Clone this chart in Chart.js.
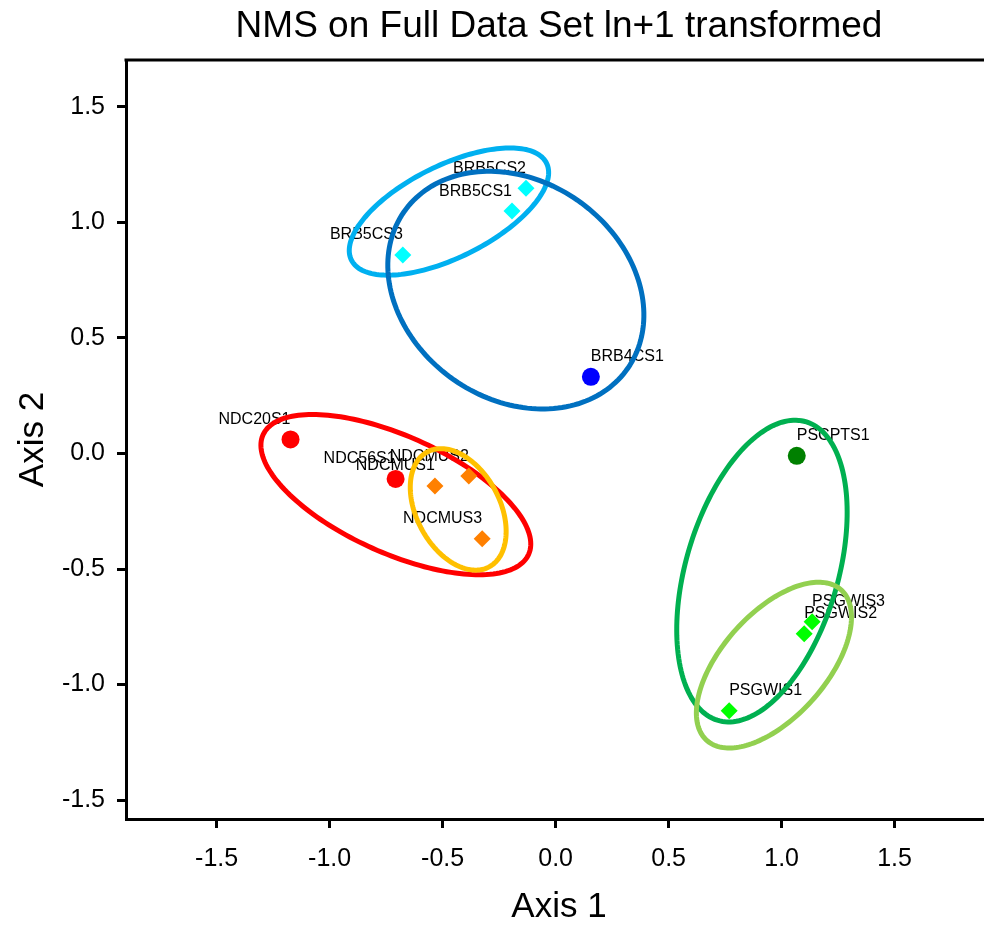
<!DOCTYPE html>
<html>
<head>
<meta charset="utf-8">
<script src="https://cdn.jsdelivr.net/npm/chart.js@4.4.0/dist/chart.umd.min.js"></script>
<style>
html,body{margin:0;padding:0;background:#fff;overflow:hidden;width:984px;height:928px;}
#wrap{width:1001px;height:928px;}
canvas{display:block;}
</style>
</head>
<body>
<div id="wrap"><canvas id="c" width="1001" height="928"></canvas></div>
<script>
// ---- data ----
const brb5Names = ['BRB5CS1', 'BRB5CS2', 'BRB5CS3'];
const brb5X = [-0.193, -0.131, -0.676];
const brb5Y = [1.049, 1.148, 0.859];

const brb4Names = ['BRB4CS1'];
const brb4X = [0.156];
const brb4Y = [0.332];

const ndcNames = ['NDC20S1', 'NDC56S1'];
const ndcX = [-1.173, -0.708];
const ndcY = [0.061, -0.110];

const ndcmusNames = ['NDCMUS1', 'NDCMUS2', 'NDCMUS3'];
const ndcmusX = [-0.534, -0.384, -0.325];
const ndcmusY = [-0.141, -0.098, -0.369];

const pscptsNames = ['PSCPTS1'];
const pscptsX = [1.067];
const pscptsY = [-0.010];

const psgwisNames = ['PSGWIS1', 'PSGWIS2', 'PSGWIS3'];
const psgwisX = [0.768, 1.100, 1.135];
const psgwisY = [-1.114, -0.780, -0.728];

// group ellipses: centre, semi-axes (axis units), rotation (degrees)
const ellipseCx = [-0.472, -0.176, -0.707, -0.431, 0.913, 0.966];
const ellipseCy = [1.047, 0.707, -0.178, -0.242, -0.509, -0.916];
const ellipseA = [0.480, 0.600, 0.642, 0.284, 0.675, 0.441];
const ellipseB = [0.200, 0.475, 0.254, 0.183, 0.336, 0.228];
const ellipseAngle = [25.7, -32.6, -23.6, -60.4, 73.0, 47.2];
const ellipseColors = ['#00B0F0', '#0070C0', '#FF0000', '#FFC000', '#00B050', '#92D050'];

const xTicks = [-1.5, -1.0, -0.5, 0.0, 0.5, 1.0, 1.5];
const yTicks = [-1.5, -1.0, -0.5, 0.0, 0.5, 1.0, 1.5];

// ---- build ----
const pts = (names, xs, ys) => names.map((n, i) => ({x: xs[i], y: ys[i], label: n}));
const FONT = '"Liberation Sans", Arial, Helvetica, sans-serif';
Chart.defaults.font.family = FONT;
Chart.defaults.color = '#000';

const overlay = {
  id: 'overlay',
  beforeDatasetsDraw(chart) {
    const {ctx, scales: {x, y}, chartArea} = chart;
    ctx.save();
    ctx.beginPath();
    ctx.rect(chartArea.left, chartArea.top, chartArea.right - chartArea.left, chartArea.bottom - chartArea.top);
    ctx.clip();
    // point labels
    ctx.font = '16px ' + FONT;
    ctx.fillStyle = '#000';
    ctx.textBaseline = 'middle';
    chart.data.datasets.forEach(ds => {
      ds.data.forEach(p => {
        const px = x.getPixelForValue(p.x), py = y.getPixelForValue(p.y);
        ctx.textAlign = p.x < 0 ? 'right' : 'left';
        ctx.fillText(p.label, px, py - 20);
      });
    });
    // ellipses
    ctx.lineWidth = 5;
    ellipseCx.forEach((cx, k) => {
      const th = ellipseAngle[k] * Math.PI / 180;
      const a = ellipseA[k], b = ellipseB[k], cy = ellipseCy[k];
      ctx.beginPath();
      const N = 180;
      for (let i = 0; i <= N; i++) {
        const t = i / N * 2 * Math.PI;
        const dx = a * Math.cos(t) * Math.cos(th) - b * Math.sin(t) * Math.sin(th);
        const dy = a * Math.cos(t) * Math.sin(th) + b * Math.sin(t) * Math.cos(th);
        const px = x.getPixelForValue(cx + dx), py = y.getPixelForValue(cy + dy);
        if (i === 0) ctx.moveTo(px, py); else ctx.lineTo(px, py);
      }
      ctx.closePath();
      ctx.strokeStyle = ellipseColors[k];
      ctx.stroke();
    });
    ctx.restore();
  },
  afterDraw(chart) {
    const {ctx, chartArea} = chart;
    ctx.save();
    ctx.strokeStyle = '#000';
    ctx.lineWidth = 3;
    ctx.beginPath();
    ctx.moveTo(chartArea.left - 1.5, chartArea.top);
    ctx.lineTo(chartArea.right, chartArea.top);
    ctx.stroke();
    ctx.restore();
  }
};

const tickOpts = {
  font: {size: 25, family: FONT},
  color: '#000',
  autoSkip: false,
  maxRotation: 0,
  callback: v => Number(v).toFixed(1)
};
const gridOpts = {display: true, drawOnChartArea: false, drawTicks: true, tickLength: 9, tickWidth: 3, tickColor: '#000'};

new Chart(document.getElementById('c'), {
  type: 'scatter',
  data: {
    datasets: [
      {label: 'BRB5CS', data: pts(brb5Names, brb5X, brb5Y), pointStyle: 'rectRot', pointRadius: 8.5, backgroundColor: '#00FFFF', borderWidth: 0},
      {label: 'BRB4CS', data: pts(brb4Names, brb4X, brb4Y), pointStyle: 'circle', pointRadius: 9, backgroundColor: '#0000FF', borderWidth: 0},
      {label: 'NDC', data: pts(ndcNames, ndcX, ndcY), pointStyle: 'circle', pointRadius: 9, backgroundColor: '#FF0000', borderWidth: 0},
      {label: 'NDCMUS', data: pts(ndcmusNames, ndcmusX, ndcmusY), pointStyle: 'rectRot', pointRadius: 8.5, backgroundColor: '#FF8000', borderWidth: 0},
      {label: 'PSCPTS', data: pts(pscptsNames, pscptsX, pscptsY), pointStyle: 'circle', pointRadius: 9, backgroundColor: '#008000', borderWidth: 0},
      {label: 'PSGWIS', data: pts(psgwisNames, psgwisX, psgwisY), pointStyle: 'rectRot', pointRadius: 8.5, backgroundColor: '#00FF00', borderWidth: 0}
    ]
  },
  options: {
    responsive: false,
    devicePixelRatio: 1,
    animation: false,
    layout: {padding: 0},
    plugins: {
      legend: {display: false},
      tooltip: {enabled: false},
      title: {
        display: true,
        text: 'NMS on Full Data Set ln+1 transformed',
        fullSize: false,
        color: '#000',
        font: {size: 37, weight: 'normal', family: FONT, lineHeight: 1},
        padding: {top: 8, bottom: 15}
      }
    },
    scales: {
      x: {
        type: 'linear',
        min: -1.901, max: 1.931,
        afterFit(s) { s.height = 109; s.paddingLeft = 0; s.paddingRight = 0; },
        afterBuildTicks(s) { s.ticks = xTicks.map(v => ({value: v})); },
        ticks: Object.assign({padding: 16}, tickOpts),
        grid: gridOpts,
        border: {display: true, color: '#000', width: 3},
        title: {display: true, text: 'Axis 1', color: '#000', font: {size: 35, family: FONT, lineHeight: 1}, padding: {top: 0, bottom: 3}}
      },
      y: {
        type: 'linear',
        min: -1.582, max: 1.703,
        afterFit(s) { s.width = 126; s.paddingTop = 0; s.paddingBottom = 0; },
        afterBuildTicks(s) { s.ticks = yTicks.map(v => ({value: v})); },
        ticks: Object.assign({padding: 12}, tickOpts),
        grid: gridOpts,
        border: {display: true, color: '#000', width: 3},
        title: {display: true, text: 'Axis 2', color: '#000', font: {size: 35, family: FONT, lineHeight: 1}, padding: {top: 16, bottom: 0}}
      }
    }
  },
  plugins: [overlay]
});
</script>
</body>
</html>
